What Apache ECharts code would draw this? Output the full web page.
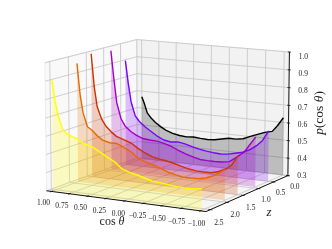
<!DOCTYPE html>
<html><head><meta charset="utf-8"><style>html,body{margin:0;padding:0;background:#fff;overflow:hidden}#c{width:332px;height:249px}</style>
<script src="https://cdn.jsdelivr.net/npm/echarts@6/dist/echarts.min.js"></script></head><body><div id="c"></div>
<script>
const cosValues=[1,.96,.92,.86,.8,.72,.65,.55,.45,.35,.25,.15,.05,-.05,-.15,-.25,-.35,-.45,-.55,-.65,-.75,-.85,-.92,-1];
const redshifts=[0,0.5,0.93,1.5,1.9,2.585];
const colors=['#000000','#7a00ff','#a400c8','#cc3300','#e66a00','#ffff00'];
const p0=[.667,.625,.575,.545,.523,.501,.485,.47,.462,.458,.462,.458,.456,.459,.468,.477,.476,.483,.501,.517,.533,.543,.578,.627];
const p1=[.905,.775,.67,.59,.56,.533,.514,.488,.468,.461,.466,.459,.448,.438,.431,.427,.424,.428,.438,.448,.468,.498,.527,.584];
const p2=[.983,.825,.69,.6,.56,.533,.517,.5,.496,.494,.486,.474,.456,.44,.428,.418,.416,.416,.418,.425,.455,.488,.53,.577];
const p3=[.994,.81,.7,.635,.597,.566,.545,.531,.518,.491,.47,.453,.445,.439,.43,.419,.409,.404,.402,.403,.415,.435,.458,.512];
const p4=[.961,.79,.69,.615,.6,.57,.55,.54,.54,.522,.502,.469,.456,.445,.43,.415,.405,.398,.398,.4,.408,.425,.442,.466];
const p5=[.907,.797,.72,.647,.622,.609,.6,.577,.567,.545,.521,.501,.467,.453,.444,.433,.421,.418,.414,.408,.407,.406,.408,.414];
const curves=[p0,p1,p2,p3,p4,p5];
const xTicks=[1,.75,.5,.25,0,-.25,-.5,-.75,-1];
const zTicks=[0,.5,1,1.5,2,2.5];
const pTicks=[.3,.4,.5,.6,.7,.8,.9,1];
const xLim=[1.07,-1.07], zLim=[2.63,0], pLim=[.3,1];
const cam={E:10.83,A:-60.84,dist:11.82,k:156.18,cx:169.4,cy:120.57,bz:.82};
function projBox(X,Y,Z,c){
  const e=c.E*Math.PI/180,a=c.A*Math.PI/180,b=1.143;
  const d=[(X-.5)*b,(Y-.5)*b,(Z-.5)*c.bz];
  const w=[Math.cos(e)*Math.cos(a),Math.cos(e)*Math.sin(a),Math.sin(e)];
  const u=[-Math.sin(a),Math.cos(a),0];
  const v=[w[1]*u[2]-w[2]*u[1],w[2]*u[0]-w[0]*u[2],w[0]*u[1]-w[1]*u[0]];
  const dot=(p,q)=>p[0]*q[0]+p[1]*q[1]+p[2]*q[2];
  const s=1-dot(w,d)/c.dist;
  return [c.cx+c.k*dot(u,d)/s,c.cy-c.k*dot(v,d)/s];
}
const toBox=(c,z,p)=>[(c-xLim[0])/(xLim[1]-xLim[0]),(z-zLim[0])/(zLim[1]-zLim[0]),(p-pLim[0])/(pLim[1]-pLim[0])];
const pr=(X,Y,Z)=>projBox(X,Y,Z,cam);
const P=(c,z,p)=>{const b=toBox(c,z,p);return pr(b[0],b[1],b[2]);};

function shapeSeries(items,z){return {type:'custom',coordinateSystem:'cartesian2d',silent:true,clip:false,z:z,animation:false,
  data:items.map((_,i)=>[i,0]),
  renderItem:(params,api)=>{const it=items[params.dataIndex];const pts=it.pts?it.pts.map(q=>api.coord(q)):null;
    if(it.t==='poly')return{type:'polygon',shape:{points:pts},style:{fill:it.fill,stroke:it.stroke||'none',lineWidth:it.lw||0}};
    if(it.t==='line')return{type:'polyline',shape:{points:pts},style:{fill:'none',stroke:it.stroke,lineWidth:it.lw}};
    const o=api.coord(it.at);
    return{type:'text',x:o[0],y:o[1],rotation:it.rot||0,style:{text:it.text,rich:it.rich,fontFamily:'Liberation Serif',fontSize:it.size,fill:'#222',align:'center',verticalAlign:'middle',textAlign:'center',textVerticalAlign:'middle'}};
  }};}
const bg=[];
const cn=(a,b,c)=>pr(a,b,c);
bg.push({t:'poly',pts:[cn(0,0,0),cn(0,1,0),cn(0,1,1),cn(0,0,1)],fill:'#f9f9f9',stroke:'#eeeeee',lw:1});
bg.push({t:'poly',pts:[cn(0,1,0),cn(1,1,0),cn(1,1,1),cn(0,1,1)],fill:'#f2f2f2',stroke:'#eeeeee',lw:1});
bg.push({t:'poly',pts:[cn(0,0,0),cn(1,0,0),cn(1,1,0),cn(0,1,0)],fill:'#f5f5f5',stroke:'#eeeeee',lw:1});
const gc='#c4c4c4',glw=.8;
for(const t of xTicks){const X=toBox(t,0,.3)[0];bg.push({t:'line',pts:[cn(X,0,0),cn(X,1,0),cn(X,1,1)],stroke:gc,lw:glw});}
for(const t of zTicks){const Y=toBox(0,t,.3)[1];bg.push({t:'line',pts:[cn(1,Y,0),cn(0,Y,0),cn(0,Y,1)],stroke:gc,lw:glw});}
for(const t of pTicks){const Z=toBox(0,0,t)[2];bg.push({t:'line',pts:[cn(0,0,Z),cn(0,1,Z),cn(1,1,Z)],stroke:gc,lw:glw});}
const ax=[];
ax.push({t:'line',pts:[cn(0,0,0),cn(1,0,0)],stroke:'#111',lw:1});
ax.push({t:'line',pts:[cn(1,0,0),cn(1,1,0)],stroke:'#111',lw:1});
ax.push({t:'line',pts:[cn(1,1,0),cn(1,1,1)],stroke:'#111',lw:1});
const fs=7.5;const fmt2=v=>(v<0?'\u2212':'')+Math.abs(v).toFixed(2);const fmt1=v=>v.toFixed(1);
xTicks.forEach((t,i)=>{const X=toBox(t,0,.3)[0];ax.push({t:'line',pts:[cn(X,-.015,0),cn(X,.015,0)],stroke:'#111',lw:.8});
  const q=cn(X,0,0),f=i/(xTicks.length-1);ax.push({t:'text',text:fmt2(t),size:fs,at:[q[0]-8+4*f,q[1]+12+1.5*f]});});
zTicks.forEach((t,i)=>{const Y=toBox(0,t,.3)[1];ax.push({t:'line',pts:[cn(1.012,Y,0),cn(.988,Y,0)],stroke:'#111',lw:.8});
  const q=cn(1,Y,0),f=i/(zTicks.length-1);ax.push({t:'text',text:fmt1(t),size:fs,at:[q[0]+7+1.5*f,q[1]+11+2*f]});});
pTicks.forEach((t,i)=>{const Z=toBox(0,0,t)[2];ax.push({t:'line',pts:[cn(.99,1,Z),cn(1.01,1,Z)],stroke:'#111',lw:.8});
  const q=cn(1,1,Z),f=i/(pTicks.length-1);ax.push({t:'text',text:fmt1(t),size:fs,at:[q[0]+14,q[1]+5*f]});});
const mkRich=s=>({i:{fontStyle:'italic',fontFamily:'Liberation Serif',fontSize:s,fill:'#222'},n:{fontFamily:'Liberation Serif',fontSize:s,fill:'#222'}});
ax.push({t:'text',text:'{n|cos} {i|\u03b8}',rich:mkRich(12),size:12,at:[112,222]});
ax.push({t:'text',text:'{i|z}',rich:mkRich(13),size:13,at:[269,213]});
ax.push({t:'text',text:'{i|p}{n|(cos} {i|\u03b8}{n|)}',rich:mkRich(13.5),size:13.5,at:[319,113],rot:Math.PI/2});
const series=[shapeSeries(bg,1),shapeSeries(ax,2)];
curves.forEach((vals,i)=>{
  const z=redshifts[i];
  const top=vals.map((p,j)=>P(cosValues[j],z,p));
  const bottom=[P(cosValues[cosValues.length-1],z,pLim[0]),P(cosValues[0],z,pLim[0])];
  series.push(shapeSeries([{t:'poly',pts:top.concat(bottom),fill:colors[i]==='#000000'?'rgba(0,0,0,.22)':colors[i]+'3a'}],3+i*2));
  series.push({type:'line',data:top,showSymbol:false,silent:true,animation:false,z:4+i*2,clip:false,lineStyle:{color:colors[i],width:1.4}});
});
const chart=echarts.init(document.getElementById('c'),null,{renderer:'canvas',width:332,height:249});
chart.setOption({animation:false,backgroundColor:'#fff',grid:{left:0,right:0,top:0,bottom:0},
 xAxis:{type:'value',min:0,max:332,show:false},yAxis:{type:'value',min:0,max:249,inverse:true,show:false},series});
</script></body></html>
